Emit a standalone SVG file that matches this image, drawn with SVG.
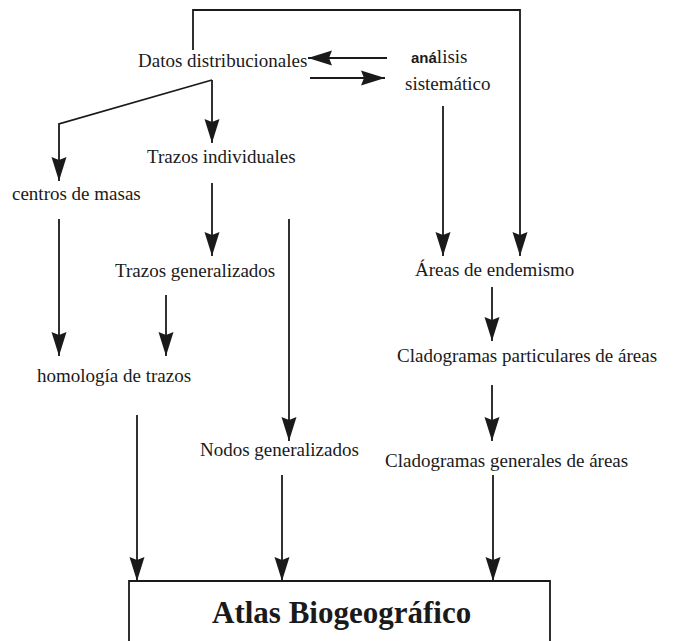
<svg xmlns="http://www.w3.org/2000/svg" width="673" height="641" viewBox="0 0 673 641">
<style>
.t{font-family:"Liberation Serif","Times New Roman",serif;font-size:19px;fill:#1a1a1a}
.b{font-family:"Liberation Serif","Times New Roman",serif;font-size:31px;font-weight:bold;fill:#1a1a1a}
.s{font-family:"Liberation Sans",Arial,sans-serif;font-weight:bold;font-size:15px}
.c{fill:none;stroke:#1a1a1a;stroke-width:1.8;marker-end:url(#ah)}
.p{fill:none;stroke:#1a1a1a;stroke-width:1.8}
</style>
<defs>
<marker id="ah" markerUnits="userSpaceOnUse" markerWidth="26" markerHeight="18" refX="24" refY="9" orient="auto" viewBox="0 0 26 18">
<path d="M0,1.5 L24,9 L0,16.5 L3,9 z" fill="#1a1a1a"/>
</marker>
</defs>
<rect width="673" height="641" fill="#ffffff"/>
<g id="connectors">
<path class="c" d="M193,50 V10 H520 V256"/>
<path class="c" d="M387,58 H308"/>
<path class="c" d="M310,78 H385"/>
<path class="c" d="M212,80 V143"/>
<path class="c" d="M212,80 L59,124 V181"/>
<path class="c" d="M212,183 V256"/>
<path class="c" d="M166,295 V356"/>
<path class="c" d="M59,219 V356"/>
<path class="c" d="M289,219 V441"/>
<path class="c" d="M443,106 V256"/>
<path class="c" d="M492,287 V341"/>
<path class="c" d="M492,385 V441"/>
<path class="c" d="M137,415 V581"/>
<path class="c" d="M282,475 V581"/>
<path class="c" d="M493,475 V581"/>
</g>
<g id="datos"><text class="t" x="138" y="67">Datos distribucionales</text></g>
<g id="analisis"><text class="t" x="411" y="63"><tspan class="s">aná</tspan>lisis</text><text class="t" x="405" y="90">sistemático</text></g>
<g id="trazos-individuales"><text class="t" x="147" y="163">Trazos individuales</text></g>
<g id="centros"><text class="t" x="12" y="200">centros de masas</text></g>
<g id="trazos-generalizados"><text class="t" x="115" y="277">Trazos generalizados</text></g>
<g id="areas"><text class="t" x="415" y="276">Áreas de endemismo</text></g>
<g id="clad-part"><text class="t" x="397" y="362">Cladogramas particulares de áreas</text></g>
<g id="homologia"><text class="t" x="37" y="382">homología de trazos</text></g>
<g id="nodos"><text class="t" x="200" y="456">Nodos generalizados</text></g>
<g id="clad-gen"><text class="t" x="385" y="467">Cladogramas generales de áreas</text></g>
<g id="atlas">
<path class="p" d="M129,645 V581 H550 V645"/>
<text class="b" x="212" y="623">Atlas Biogeográfico</text>
</g>
</svg>
